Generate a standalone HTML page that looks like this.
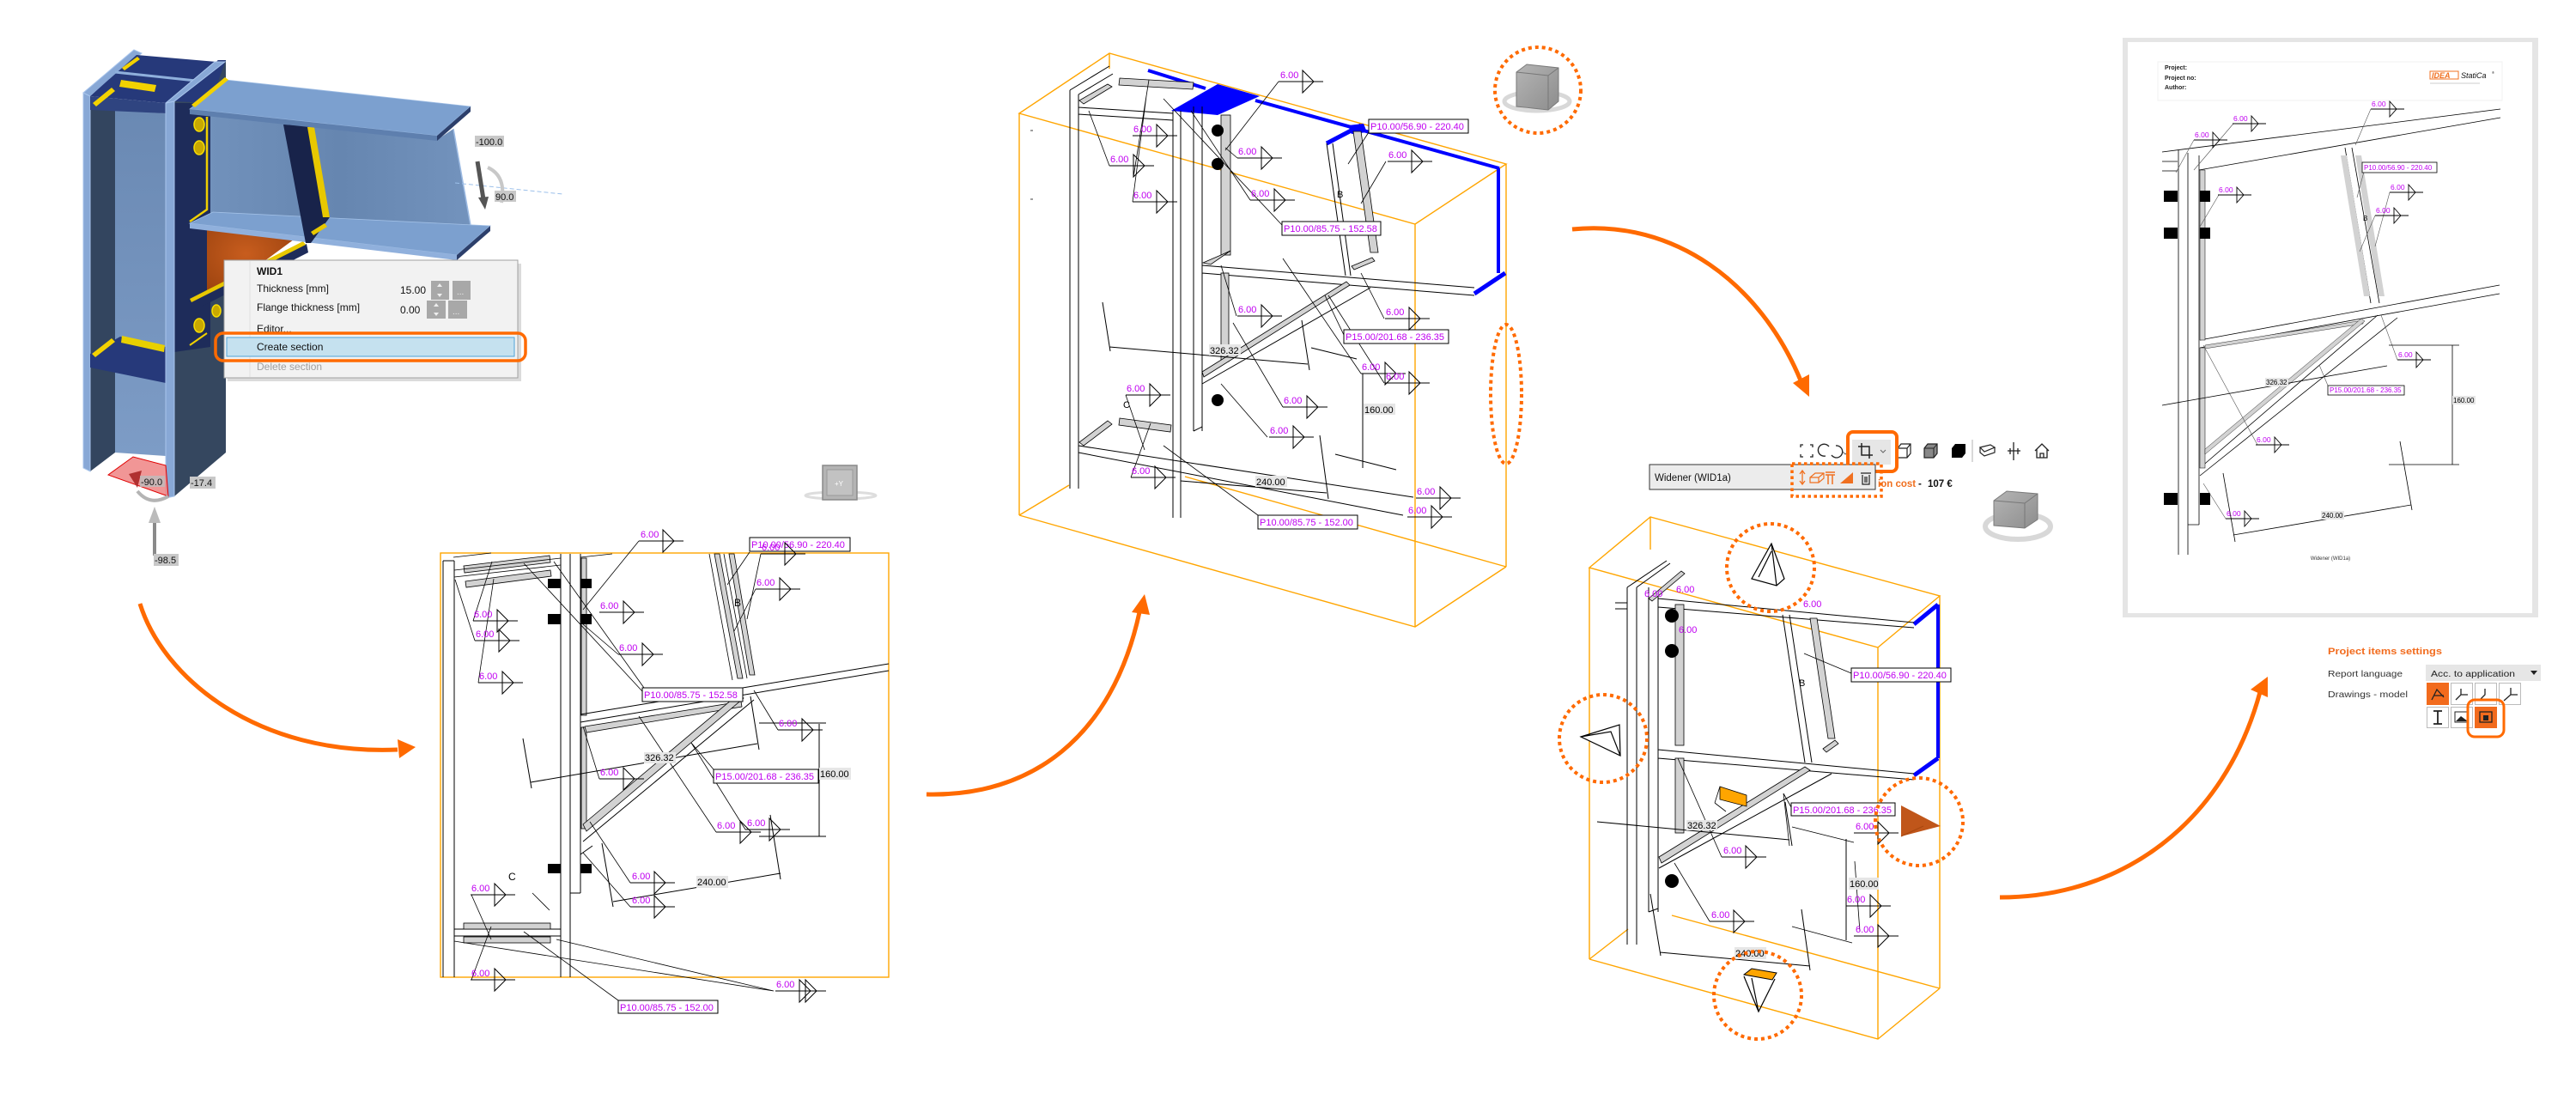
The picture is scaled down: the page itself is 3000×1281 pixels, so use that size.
<!DOCTYPE html>
<html><head><meta charset="utf-8">
<style>
html,body{margin:0;padding:0;background:#fff;overflow:hidden;}
svg{display:block;}
text{font-family:"Liberation Sans",sans-serif;}
.m{fill:#c000f0;font-size:11px;}
.m8{fill:#c000f0;font-size:8.5px;}
.k{fill:#000;font-size:11px;}
.k8{fill:#000;font-size:8px;}
.ln{stroke:#000;stroke-width:1;fill:none;}
.lt{stroke:#000;stroke-width:0.8;fill:none;}
.bx{fill:none;stroke:#ffa500;stroke-width:1.4;}
.gs{fill:#d2d2d2;stroke:#000;stroke-width:0.8;}
.lb{fill:#fff;stroke:#000;stroke-width:1;}
.dm{fill:#e6e6e6;}
.dot{fill:none;stroke:#ff6a00;stroke-width:4;stroke-dasharray:4 4;}
.mi{font-size:12px;fill:#111;}
.gl{font-size:11px;fill:#111;}
</style></head><body>
<svg width="3000" height="1281" viewBox="0 0 3000 1281" xmlns="http://www.w3.org/2000/svg">
<defs>
 <g id="w"><path d="M0,0H52M28,-13V13L41,0Z" fill="none" stroke="#000" stroke-width="1"/></g>
 <g id="ws"><path d="M0,0H39M22,-9V9L30,0Z" fill="none" stroke="#000" stroke-width="0.9"/></g>
 <linearGradient id="web" x1="0" y1="0" x2="0" y2="1"><stop offset="0" stop-color="#6a89b3"/><stop offset="1" stop-color="#7d9cc6"/></linearGradient>
 <linearGradient id="web2" x1="0" y1="0" x2="1" y2="0"><stop offset="0" stop-color="#7191bb"/><stop offset="0.5" stop-color="#6686b0"/><stop offset="1" stop-color="#7393bd"/></linearGradient>
 <radialGradient id="org" cx="0.45" cy="0.35" r="0.7"><stop offset="0" stop-color="#c85d1e"/><stop offset="1" stop-color="#9c430f"/></radialGradient>
 <linearGradient id="cube" x1="0" y1="0" x2="1" y2="1"><stop offset="0" stop-color="#b5b5b5"/><stop offset="1" stop-color="#8d8d8d"/></linearGradient>
</defs>
<rect width="3000" height="1281" fill="#fff"/>

<!-- ================= PANEL 1 ================= -->
<polygon points="203,118 254,70 263,70 263,527 203,578" fill="#35475f"/>
<polygon points="203,118 254,70 263,70 245,120" fill="#26397a"/>
<polygon points="203,120 245,120 245,404 203,410" fill="#1e2c5a"/>
<polygon points="105,128 134,128 134,527 105,549" fill="#33455f"/>
<polygon points="134,128 193,132 193,531 134,527" fill="url(#web)"/>
<polygon points="97,108 105,112 105,549 97,545" fill="#88a8d6" stroke="#a9c5ec" stroke-width="1"/>
<polygon points="97,108 156,58 165,62 105,112" fill="#88a8d6" stroke="#a9c5ec" stroke-width="1"/>
<polygon points="105,112 159,64 252,72 193,120" fill="#26397a"/>
<polygon points="105,112 193,120 193,132 105,128" fill="#2f4480"/>
<line x1="134" y1="84" x2="228" y2="94" stroke="#8fb0dc" stroke-width="3"/>
<polygon points="141,93 182,99 180,107 139,101" fill="#f3d200"/>
<polygon points="108,120 130,102 134,106 112,124" fill="#f3d200"/>
<polygon points="142,79 160,66 163,69 145,82" fill="#f3d200"/>
<polygon points="105,412 140,392 193,404 193,446 105,428" fill="#26397a"/>
<polygon points="107,412 130,394 134,398 111,416" fill="#f3d200"/>
<polygon points="142,391 192,402 191,410 141,399" fill="#e8d000"/>
<polygon points="193,120 203,118 203,578 193,580" fill="#88a8d6" stroke="#a9c5ec" stroke-width="1"/>
<polygon points="193,120 250,72 262,72 203,118" fill="#88a8d6" stroke="#a9c5ec" stroke-width="1"/>
<!-- beam web -->
<polygon points="245,133 509,163 528,150 549,268 532,297 245,262" fill="url(#web2)"/>
<line x1="528" y1="150" x2="549" y2="268" stroke="#9dbbe3" stroke-width="1.5"/>
<!-- widener -->
<polygon points="241,268 342,279 262,338 241,347" fill="url(#org)"/>
<polygon points="221,352 357,284 359,294 223,363" fill="#1e2c5a"/>
<polygon points="221,348 353,281 356,285 223,352" fill="#e8c800"/>
<!-- bottom flange -->
<polygon points="221,260 248,247 571,263 532,297" fill="#7ca0cf" stroke="#a2c0e6" stroke-width="0.8"/>
<polygon points="221,260 532,297 532,303 221,266" fill="#90b0dc"/>
<polygon points="532,297 571,263 571,269 532,303" fill="#2c3f6b"/>
<!-- stiffener -->
<polygon points="330,145 362,147 384,253 362,283 356,283" fill="#18234a"/>
<polygon points="358,148 366,148 384,253 376,253" fill="#e8c800"/>
<polygon points="362,270 378,260 381,264 365,274" fill="#e8c800"/>
<!-- top flange -->
<polygon points="221,127 263,93 548,124 509,158" fill="#7ca0cf" stroke="#9cbbe3" stroke-width="0.8"/>
<polygon points="221,127 509,158 509,164 221,133" fill="#5e7fae"/>
<polygon points="509,158 548,124 548,130 509,164" fill="#2c3f6b"/>
<polygon points="223,122 262,90 266,93 227,125" fill="#f3d200"/>
<polyline points="221,258 241,244 241,136" fill="none" stroke="#f0d000" stroke-width="2.5"/>
<polyline points="221,402 241,388" fill="none" stroke="#f0d000" stroke-width="2"/>
<ellipse cx="232" cy="145" rx="6" ry="8" fill="#c9a900" stroke="#f7dd00" stroke-width="1.5"/>
<ellipse cx="232" cy="172" rx="6" ry="8" fill="#c9a900" stroke="#f7dd00" stroke-width="1.5"/>
<ellipse cx="232" cy="379" rx="6" ry="8" fill="#c9a900" stroke="#f7dd00" stroke-width="1.5"/>
<ellipse cx="252" cy="362" rx="5" ry="7" fill="#c9a900" stroke="#f7dd00" stroke-width="1.5"/>
<!-- gizmo -->
<line x1="530" y1="213" x2="655" y2="226" stroke="#9cc0ea" stroke-width="1" stroke-dasharray="5 3"/>
<path d="M568,195 Q590,205 584,236" fill="none" stroke="#c8c8c8" stroke-width="4"/>
<path d="M556,188 L563,232" stroke="#555" stroke-width="5" fill="none"/>
<polygon points="557,230 569,229 565,244" fill="#555"/>
<rect x="553" y="158" width="34" height="13" fill="#c8c8c8"/>
<text x="554" y="169" class="gl">-100.0</text>
<rect x="576" y="222" width="25" height="13" fill="#c8c8c8"/>
<text x="577" y="233" class="gl">90.0</text>
<!-- red plate -->
<polygon points="126,553 155,532 193,542 196,578" fill="#ef8484" fill-opacity="0.85" stroke="#e00000" stroke-width="1"/>
<polygon points="150,552 165,548 160,568" fill="#b03030"/>
<path d="M160,572 Q175,590 196,578" fill="none" stroke="#b4b4b4" stroke-width="4"/>
<rect x="163" y="554" width="29" height="13" fill="#bdbdbd" fill-opacity="0.8"/>
<text x="164" y="565" class="gl">-90.0</text>
<rect x="221" y="555" width="30" height="14" fill="#c8c8c8"/>
<text x="222" y="566" class="gl">-17.4</text>
<rect x="178" y="605" width="4" height="42" fill="#8a8a8a"/>
<polygon points="173,609 180,590 187,609" fill="#bbb"/>
<rect x="179" y="645" width="29" height="14" fill="#c8c8c8"/>
<text x="180" y="656" class="gl">-98.5</text>
<!-- context menu -->
<rect x="265" y="307" width="342" height="137" fill="#999" fill-opacity="0.35"/>
<rect x="261" y="303" width="342" height="137" fill="#f2f2f2" stroke="#a0a0a0" stroke-width="1"/>
<line x1="291" y1="304" x2="291" y2="439" stroke="#e0e0e0" stroke-width="1"/>
<text x="299" y="320" class="mi" font-weight="bold">WID1</text>
<text x="299" y="340" class="mi">Thickness [mm]</text>
<text x="466" y="342" class="mi">15.00</text>
<rect x="502" y="327" width="21" height="22" fill="#a8a8a8"/>
<polygon points="509,334 512,330 515,334" fill="#eee"/><polygon points="509,342 512,346 515,342" fill="#eee"/>
<rect x="527" y="327" width="21" height="22" fill="#a8a8a8"/>
<text x="532" y="343" font-size="10" fill="#eee">...</text>
<text x="299" y="362" class="mi">Flange thickness [mm]</text>
<text x="466" y="365" class="mi">0.00</text>
<rect x="497" y="350" width="22" height="21" fill="#a8a8a8"/>
<polygon points="505,357 508,353 511,357" fill="#eee"/><polygon points="505,364 508,368 511,364" fill="#eee"/>
<rect x="522" y="350" width="22" height="21" fill="#a8a8a8"/>
<text x="527" y="366" font-size="10" fill="#eee">...</text>
<text x="299" y="387" class="mi">Editor...</text>
<rect x="264" y="393" width="335" height="22" fill="#c5e1ef" stroke="#4ea3d8" stroke-width="1"/>
<text x="299" y="408" class="mi">Create section</text>
<text x="299" y="431" class="mi" fill="#a0a0a0" style="fill:#a0a0a0">Delete section</text>
<rect x="251" y="388" width="361" height="32" rx="9" fill="none" stroke="#ff6a00" stroke-width="3.5"/>

<!-- ================= PANEL 2 ================= -->
<rect x="513" y="644" width="522" height="494" class="bx"/>
<path class="ln" d="M516,653V1138M529,653V1138M516,653H529M653,645V1138M664,645V1138M676,645V1040M664,1040H676"/>
<rect x="677" y="650" width="6" height="183" class="gs"/>
<rect x="677" y="847" width="6" height="118" class="gs"/>
<polygon class="gs" points="540,659 640,647 641,655 541,667"/>
<polygon class="gs" points="542,677 641,664 642,671 543,684"/>
<path class="lt" d="M529,664L653,650M529,672L653,658M528,649L572,644M676,649L713,645"/>
<rect x="638" y="674" width="15" height="11"/><rect x="676" y="674" width="13" height="11"/>
<rect x="638" y="715" width="15" height="12"/><rect x="676" y="715" width="13" height="12"/>
<rect x="638" y="1006" width="15" height="11"/><rect x="676" y="1006" width="13" height="11"/>
<path class="ln" d="M676,832L1035,773M676,841L1035,781"/>
<polygon class="gs" points="681,846 863,817 864,823 683,853"/>
<polygon class="gs" points="679,960 858,810 866,813 683,968"/>
<path class="ln" d="M679,980L878,815M676,995L690,985"/>
<polygon class="gs" points="832,645 838,645 865,790 859,790"/>
<polygon class="gs" points="849,645 855,645 879,786 873,786"/>
<path class="lt" d="M826,645L853,792M843,645L870,790"/>
<path class="ln" d="M529,1082H653M529,1090H653"/>
<rect x="540" y="1075" width="101" height="7" class="gs"/>
<rect x="540" y="1091" width="101" height="7" class="gs"/>
<!-- leaders -->
<path class="lt" d="M645,654L750,801M610,656L748,805M679,710L744,630M679,727L720,762M855,735L880,686M886,645L870,721M878,804L906,850M679,846L698,907M744,834L834,969M805,865L868,966M805,865L831,896M687,957L734,1028M679,993L734,1056M549,1042L572,1094M549,1141L572,1079M551,723L573,654M553,746L530,675M557,795L575,674M610,1085L720,1165M873,643L847,681M529,1096L901,1154M648,1094L901,1154M640,1060L620,1040"/>
<!-- dimensions -->
<path class="ln" d="M618,911L882,866M609,860L619,918M874,811L884,873M954,843V974M884,842H962M884,974H962M714,1050L909,1017M701,982L714,1056M897,949L909,1024"/>
<rect x="750" y="876" width="37" height="13" class="dm"/><text x="751" y="886" class="k">326.32</text>
<rect x="954" y="894" width="37" height="14" class="dm"/><text x="955" y="905" class="k">160.00</text>
<rect x="811" y="1020" width="37" height="14" class="dm"/><text x="812" y="1031" class="k">240.00</text>
<!-- labels -->
<rect x="748" y="801" width="117" height="16" class="lb"/><text x="750" y="813" class="m">P10.00/85.75 - 152.58</text>
<rect x="831" y="896" width="122" height="16" class="lb"/><text x="833" y="908" class="m">P15.00/201.68 - 236.35</text>
<rect x="873" y="626" width="117" height="16" class="lb"/><text x="875" y="638" class="m">P10.00/56.90 - 220.40</text>
<rect x="720" y="1165" width="116" height="15" class="lb"/><text x="722" y="1177" class="m">P10.00/85.75 - 152.00</text>
<text x="855" y="706" font-size="12">B</text>
<text x="592" y="1025" font-size="12">C</text>
<!-- welds -->
<use href="#w" x="744" y="630"/><text x="746" y="626" class="m">6.00</text>
<use href="#w" x="551" y="723"/><text x="552" y="719" class="m">6.00</text>
<use href="#w" x="553" y="746"/><text x="554" y="742" class="m">6.00</text>
<use href="#w" x="557" y="795"/><text x="558" y="791" class="m">6.00</text>
<use href="#w" x="698" y="713"/><text x="699" y="709" class="m">6.00</text>
<use href="#w" x="720" y="762"/><text x="721" y="758" class="m">6.00</text>
<use href="#w" x="880" y="686"/><text x="881" y="682" class="m">6.00</text>
<use href="#w" x="886" y="645"/><text x="887" y="641" class="m">6.00</text>
<use href="#w" x="906" y="850"/><text x="907" y="846" class="m">6.00</text>
<use href="#w" x="698" y="907"/><text x="699" y="903" class="m">6.00</text>
<use href="#w" x="834" y="969"/><text x="835" y="965" class="m">6.00</text>
<use href="#w" x="868" y="966"/><text x="870" y="962" class="m">6.00</text>
<use href="#w" x="734" y="1028"/><text x="736" y="1024" class="m">6.00</text>
<use href="#w" x="734" y="1056"/><text x="736" y="1052" class="m">6.00</text>
<use href="#w" x="548" y="1042"/><text x="549" y="1038" class="m">6.00</text>
<use href="#w" x="548" y="1141"/><text x="549" y="1137" class="m">6.00</text>
<use href="#w" x="903" y="1154"/><use href="#w" x="910" y="1154"/><text x="904" y="1150" class="m">6.00</text>

<!-- small cube icon -->
<ellipse cx="979" cy="577" rx="41" ry="4" fill="none" stroke="#ddd" stroke-width="3"/>
<rect x="958" y="542" width="40" height="40" fill="#b4b4b4" stroke="#8a8a8a" stroke-width="1.5"/>
<rect x="963" y="547" width="30" height="30" fill="#c2c2c2" stroke="#9a9a9a" stroke-width="1"/>
<text x="972" y="566" font-size="8" fill="#fff">+Y</text>

<!-- ================= PANEL 3 ================= -->
<path class="bx" d="M1187,132L1292,62L1754,191L1648,261ZM1187,132V600M1648,261V730M1754,191V660M1187,600L1648,730L1754,660M1187,600L1245,565M1380,555L1754,660M1292,62V80"/>
<path d="M1337,82L1404,103M1462,117L1746,196M1745,196V318" stroke="#0000ff" stroke-width="4" fill="none"/>
<path d="M1717,342L1753,318M1545,167L1585,146" stroke="#0000ff" stroke-width="5" fill="none"/>
<polygon points="1364,129 1418,98 1467,112 1418,134" fill="#0000ff"/>
<polygon points="1570,146 1588,144 1592,154 1574,156" fill="#0000ff"/>
<path class="ln" d="M1246,105V569M1256,110V569M1246,105L1292,77M1256,110L1296,86M1366,129V603M1375,129V603M1390,124V502M1400,124V502M1390,502L1400,497M1256,125L1366,132M1256,133L1366,140M1400,309L1717,335M1400,318L1717,344M1545,167L1567,321M1552,167L1573,321M1400,447L1596,335M1256,519L1646,579M1256,527L1634,600"/>
<rect x="1422" y="134" width="11" height="163" class="gs"/>
<polygon class="gs" points="1422,297 1433,292 1410,308 1401,306"/>
<rect x="1422" y="318" width="9" height="103" class="gs"/>
<polygon class="gs" points="1257,117 1290,98 1295,101 1262,121"/>
<polygon class="gs" points="1304,91 1390,96 1389,104 1303,99"/>
<polygon class="gs" points="1257,515 1290,490 1295,494 1262,519"/>
<polygon class="gs" points="1304,487 1364,495 1363,503 1303,495"/>
<polygon class="gs" points="1576,153 1585,153 1605,294 1596,294"/>
<polygon class="gs" points="1574,310 1598,300 1601,304 1577,314"/>
<polygon class="gs" points="1400,433 1568,328 1572,332 1402,439"/>
<ellipse cx="1418" cy="152" rx="7" ry="7"/><ellipse cx="1418" cy="191" rx="7" ry="7"/><ellipse cx="1418" cy="466" rx="7" ry="7"/>
<path class="lt" d="M1489,95L1427,175M1355,115L1493,262M1387,129L1456,233M1338,93L1320,206M1268,129L1292,193M1335,112L1319,235M1427,172L1441,184M1570,191L1594,154M1585,237L1614,188M1543,344L1565,390M1422,309L1440,368M1585,318L1612,371M1494,301L1585,435M1547,344L1612,446M1311,460L1333,524M1436,376L1494,474M1422,447L1476,509M1340,493L1317,556M1355,519L1465,600M1200,152H1203M1200,232H1203"/>
<path class="ln" d="M1292,404L1523,424M1284,352L1293,409M1516,373L1525,431M1587,435V545M1527,405L1580,418M1555,529L1626,547M1375,560L1545,574M1537,507L1547,581"/>
<rect x="1408" y="401" width="37" height="13" class="dm"/><text x="1409" y="412" class="k">326.32</text>
<rect x="1588" y="470" width="37" height="13" class="dm"/><text x="1589" y="481" class="k">160.00</text>
<rect x="1462" y="554" width="37" height="13" class="dm"/><text x="1463" y="565" class="k">240.00</text>
<rect x="1594" y="139" width="116" height="16" class="lb"/><text x="1596" y="151" class="m">P10.00/56.90 - 220.40</text>
<rect x="1493" y="258" width="115" height="16" class="lb"/><text x="1495" y="270" class="m">P10.00/85.75 - 152.58</text>
<rect x="1565" y="384" width="122" height="16" class="lb"/><text x="1567" y="396" class="m">P15.00/201.68 - 236.35</text>
<rect x="1465" y="600" width="116" height="16" class="lb"/><text x="1467" y="612" class="m">P10.00/85.75 - 152.00</text>
<text x="1557" y="230" font-size="11">B</text>
<text x="1308" y="475" font-size="11">C</text>
<use href="#w" x="1489" y="95"/><text x="1491" y="91" class="m">6.00</text>
<use href="#w" x="1319" y="158"/><text x="1320" y="154" class="m">6.00</text>
<use href="#w" x="1292" y="193"/><text x="1293" y="189" class="m">6.00</text>
<use href="#w" x="1319" y="235"/><text x="1320" y="231" class="m">6.00</text>
<use href="#w" x="1441" y="184"/><text x="1442" y="180" class="m">6.00</text>
<use href="#w" x="1456" y="233"/><text x="1457" y="229" class="m">6.00</text>
<use href="#w" x="1616" y="188"/><text x="1617" y="184" class="m">6.00</text>
<use href="#w" x="1441" y="368"/><text x="1442" y="364" class="m">6.00</text>
<use href="#w" x="1613" y="371"/><text x="1614" y="367" class="m">6.00</text>
<use href="#w" x="1585" y="435"/><text x="1586" y="431" class="m">6.00</text>
<use href="#w" x="1613" y="446"/><text x="1614" y="442" class="m">6.00</text>
<use href="#w" x="1311" y="460"/><text x="1312" y="456" class="m">6.00</text>
<use href="#w" x="1494" y="474"/><text x="1495" y="470" class="m">6.00</text>
<use href="#w" x="1478" y="509"/><text x="1479" y="505" class="m">6.00</text>
<use href="#w" x="1317" y="556"/><text x="1318" y="552" class="m">6.00</text>
<use href="#w" x="1649" y="580"/><text x="1650" y="576" class="m">6.00</text>
<use href="#w" x="1639" y="602"/><text x="1640" y="598" class="m">6.00</text>
<!-- nav cube 3 -->
<ellipse cx="1790" cy="118" rx="38" ry="11" fill="none" stroke="#d8d8d8" stroke-width="5"/>
<polygon points="1766,84 1778,75 1815,79 1815,118 1803,128 1766,124" fill="url(#cube)" stroke="#7a7a7a" stroke-width="1"/>
<path d="M1766,84L1803,88L1815,79M1803,88V128" stroke="#777" fill="none"/>
<circle cx="1791" cy="105" r="50" class="dot"/>
<ellipse cx="1754" cy="459" rx="18" ry="81" class="dot"/>

<!-- ================= PANEL 4 ================= -->
<!-- toolbar -->
<rect x="2157" y="512" width="45" height="29" fill="#e6e6e6"/>
<path d="M2097,521V518H2100M2108,518H2111V521M2097,529V532H2100M2108,532H2111V529" stroke="#222" fill="none" stroke-width="1.3"/>
<path d="M2130,520A7,7 0 1 0 2126,531M2133,530A7,7 0 1 0 2138,519" stroke="#222" fill="none" stroke-width="1.3"/>
<path d="M2146,526L2149,529L2152,526" stroke="#666" fill="none"/>
<path d="M2168,516V530H2181M2164,520H2177V534" stroke="#222" fill="none" stroke-width="1.5"/>
<path d="M2190,524L2193,527L2196,524" stroke="#666" fill="none"/>
<path d="M2210,522L2214,517H2225V528L2221,533H2210ZM2210,522H2221V533M2221,522L2225,517" stroke="#222" fill="none" stroke-width="1.2"/>
<path d="M2241,522L2245,517H2256V528L2252,533H2241Z" fill="#888" stroke="#222" stroke-width="1.2"/>
<path d="M2241,522H2252V533M2252,522L2256,517" stroke="#222" fill="none"/>
<path d="M2273,522L2277,517H2289V528L2285,533H2273Z" fill="#000"/>
<line x1="2297" y1="512" x2="2297" y2="538" stroke="#ccc" stroke-width="1.5"/>
<path d="M2306,521L2318,518L2323,521L2311,526ZM2306,521V527L2311,531L2323,527V521" stroke="#222" fill="none" stroke-width="1.2"/>
<path d="M2345,515V536M2338,525H2353M2341,522V529M2350,522V529" stroke="#222" fill="none" stroke-width="1.3"/>
<path d="M2370,525L2378,517L2386,525M2372,523V533H2384V523M2376,533V528H2380V533" stroke="#222" fill="none" stroke-width="1.3"/>
<rect x="2152" y="503" width="57" height="46" rx="6" fill="none" stroke="#ff6a00" stroke-width="4"/>
<rect x="1921" y="541" width="263" height="29" fill="#ececec" stroke="#333" stroke-width="1"/>
<text x="1927" y="560" font-size="11.5" fill="#111">Widener (WID1a)</text>
<path d="M2099,549V563M2096,552L2099,548L2102,552M2096,560L2099,564L2102,560" stroke="#f07020" fill="none" stroke-width="1.3"/>
<path d="M2108,556L2114,551H2124V557L2118,562H2108ZM2108,556H2118V562M2118,556L2124,551" stroke="#f07020" fill="none" stroke-width="1.2"/>
<path d="M2126,550H2137M2126,553H2137M2129,553V564M2134,553V564" stroke="#f07020" fill="none" stroke-width="1.5"/>
<polygon points="2143,563 2158,563 2158,550" fill="#f07020"/>
<path d="M2167,551H2179M2169,553V564H2177V553M2172,555V562M2174,555V562" stroke="#222" fill="none" stroke-width="1.2"/>
<rect x="2087" y="540" width="104" height="38" class="dot" style="stroke-width:3.5;stroke-dasharray:3.5 3.5"/>
<text x="2187" y="567" font-size="11.5" font-weight="bold" fill="#f07020">ion cost</text>
<text x="2234" y="567" font-size="11.5" font-weight="bold" fill="#111">-</text>
<text x="2245" y="567" font-size="11.5" font-weight="bold" fill="#111">107 €</text>
<ellipse cx="2350" cy="613" rx="38" ry="15" fill="none" stroke="#d8d8d8" stroke-width="6"/>
<polygon points="2322,583 2337,572 2373,575 2373,605 2358,615 2322,612" fill="url(#cube)" stroke="#7a7a7a" stroke-width="1"/>
<path d="M2322,583L2358,586L2373,575M2358,586V615" stroke="#777" fill="none"/>
<!-- box -->
<path class="bx" d="M1851,661L1922,602L2259,694L2187,754ZM1851,661V1117M2187,754V1210M2259,694V1151M1851,1117L2187,1210L2259,1151M1851,1117L1896,1082M1947,1066L2259,1151M1922,602V640"/>
<path d="M2257,704V883" stroke="#0000ff" stroke-width="4"/>
<path d="M2229,727L2257,704M2229,903L2257,883" stroke="#0000ff" stroke-width="5"/>
<path class="ln" d="M1895,684V1100M1906,684V1100M1920,684V1062M1931,690V1062M1920,1062L1931,1058M1895,684L1941,653M1906,684L1945,656M1881,702H1895M1881,709H1895M1931,697L2229,725M1931,707L2229,731M1931,873L2229,901M1931,883L2229,908M2076,716L2102,888M2084,716L2110,888M1932,1011L2133,901"/>
<polygon class="gs" points="1920,697 1958,665 1962,668 1924,700"/>
<rect x="1951" y="704" width="10" height="164" class="gs"/>
<rect x="1951" y="883" width="10" height="87" class="gs"/>
<polygon class="gs" points="2108,720 2116,720 2137,860 2129,860"/>
<polygon class="gs" points="2123,872 2137,862 2141,866 2127,876"/>
<polygon class="gs" points="1932,998 2102,893 2108,897 1935,1005"/>
<polygon points="2003,916 2034,926 2034,939 2003,931" fill="#ffa500" stroke="#000" stroke-width="0.8"/>
<path class="lt" d="M1997,935L2003,916M1997,935L2010,945"/>
<ellipse cx="1947" cy="717" rx="8" ry="8"/><ellipse cx="1947" cy="758" rx="8" ry="8"/><ellipse cx="1947" cy="1026" rx="8" ry="8"/>
<path class="lt" d="M2101,761L2156,784M2077,924L2086,940M1950,1005L1991,1073M1954,883L2005,998M2077,924L2084,985M2087,963L2159,981M2087,1079L2157,1098M2160,1003L2166,1085"/>
<path class="ln" d="M1860,957L2084,978M2079,934L2087,985M1933,1109L2108,1125M1922,1041L1934,1113M2098,1059L2108,1130M2150,977V1095"/>
<rect x="1964" y="955" width="36" height="12" class="dm"/><text x="1965" y="965" class="k">326.32</text>
<rect x="2153" y="1022" width="35" height="14" class="dm"/><text x="2154" y="1033" class="k">160.00</text>
<rect x="2020" y="1103" width="37" height="14" class="dm"/><text x="2021" y="1114" class="k">240.00</text>
<rect x="2156" y="778" width="116" height="16" class="lb"/><text x="2158" y="790" class="m">P10.00/56.90 - 220.40</text>
<rect x="2086" y="935" width="121" height="15" class="lb"/><text x="2088" y="947" class="m">P15.00/201.68 - 236.35</text>
<text x="2095" y="799" font-size="11">B</text>
<text x="1915" y="695" class="m">6.00</text>
<text x="1952" y="690" class="m">6.00</text>
<text x="2100" y="707" class="m">6.00</text>
<text x="1955" y="737" class="m">6.00</text>
<use href="#w" x="2005" y="998"/><text x="2007" y="994" class="m">6.00</text>
<use href="#w" x="2159" y="970"/><text x="2161" y="966" class="m">6.00</text>
<use href="#w" x="2150" y="1055"/><text x="2151" y="1051" class="m">6.00</text>
<use href="#w" x="1991" y="1073"/><text x="1993" y="1069" class="m">6.00</text>
<use href="#w" x="2159" y="1090"/><text x="2161" y="1086" class="m">6.00</text>
<!-- highlighted shapes -->
<path d="M2063,633L2040,674L2069,682L2078,674ZM2063,633L2069,682M2063,642L2048,672" fill="#fff" stroke="#000" stroke-width="1.2"/>
<path d="M1841,858L1886,844L1887,880ZM1841,858L1876,852L1887,880" fill="#fff" stroke="#000" stroke-width="1.2"/>
<polygon points="2214,938 2260,962 2214,974" fill="#c0561a"/>
<path d="M2214,974L2240,962" stroke="#a8470f" stroke-width="1"/>
<polygon points="2031,1135 2040,1128 2069,1133 2064,1141" fill="#ffa500" stroke="#000" stroke-width="1"/>
<path d="M2031,1137L2048,1178L2067,1140M2040,1139L2048,1178" fill="none" stroke="#000" stroke-width="1.2"/>
<circle cx="2062" cy="661" r="51" class="dot"/>
<circle cx="1867" cy="860" r="51" class="dot"/>
<circle cx="2235" cy="957" r="51" class="dot"/>
<circle cx="2047" cy="1159" r="51" class="dot"/>

<!-- ================= PANEL 5 ================= -->
<rect x="2472" y="44" width="484" height="675" fill="#e5e5e5"/>
<rect x="2478" y="49" width="471" height="665" fill="#fff"/>
<rect x="2513" y="72" width="401" height="45" fill="none" stroke="#f2f2f2" stroke-width="1"/>
<text x="2521" y="81" font-size="7" font-weight="bold" fill="#222">Project:</text>
<text x="2521" y="93" font-size="7" font-weight="bold" fill="#222">Project no:</text>
<text x="2521" y="104" font-size="7" font-weight="bold" fill="#222">Author:</text>
<rect x="2830" y="83" width="33" height="9" fill="none" stroke="#f07020" stroke-width="1"/>
<text x="2832" y="91" font-size="9" font-style="italic" font-weight="bold" fill="#f07020">IDEA</text>
<text x="2866" y="91" font-size="9" font-style="italic" fill="#111">StatiCa</text>
<text x="2902" y="86" font-size="4" fill="#111">®</text>
<line x1="2830" y1="97" x2="2888" y2="97" stroke="#bbb" stroke-width="0.8"/>
<path class="lt" d="M2537,175V646M2548,178V646M2561,181V611M2548,611H2561M2518,177L2912,127M2561,198L2912,137M2562,396L2911,332M2562,405L2911,342M2562,545L2769,367M2562,554L2792,370M2731,172L2761,353M2739,172L2771,353"/>
<rect x="2562" y="198" width="6" height="198" class="gs" style="stroke-width:0.5"/>
<rect x="2562" y="405" width="6" height="140" class="gs" style="stroke-width:0.5"/>
<polygon class="gs" points="2726,181 2733,181 2760,345 2753,345" style="stroke:none"/>
<polygon class="gs" points="2743,181 2750,181 2777,345 2770,345" style="stroke:none"/>
<polygon class="gs" points="2568,402 2752,373 2752,377 2568,406" style="stroke-width:0.4"/>
<polygon class="gs" points="2568,523 2750,371 2754,374 2568,529" style="stroke-width:0.4"/>
<rect x="2520" y="222" width="16" height="13"/><rect x="2562" y="222" width="12" height="13"/>
<rect x="2520" y="265" width="16" height="13"/><rect x="2562" y="265" width="12" height="13"/>
<rect x="2520" y="574" width="16" height="14"/><rect x="2562" y="574" width="12" height="14"/>
<path class="lt" d="M2518,188H2536M2518,199H2536" stroke="#666"/>
<path d="M2555,198L2601,144M2534,201L2555,163M2562,264L2584,227M2743,169L2761,127M2766,287L2783,224M2748,293L2766,251M2773,367L2792,419M2566,402L2629,518M2566,563L2592,604M2745,230L2753,200M2701,425L2711,449" stroke="#555" stroke-width="0.6" fill="none"/>
<path class="lt" d="M2518,472L2780,426M2856,402V541M2782,402H2864M2782,541H2864M2601,623L2808,588M2589,551L2603,631M2795,514L2809,594"/>
<rect x="2638" y="440" width="27" height="10" class="dm"/><text x="2639" y="448" class="k8">326.32</text>
<rect x="2856" y="461" width="27" height="10" class="dm"/><text x="2857" y="469" class="k8">160.00</text>
<rect x="2703" y="595" width="27" height="10" class="dm"/><text x="2704" y="603" class="k8">240.00</text>
<rect x="2751" y="189" width="87" height="12" class="lb" style="stroke-width:0.8"/><text x="2753" y="198" class="m8" style="font-size:8px">P10.00/56.90 - 220.40</text>
<rect x="2711" y="449" width="89" height="11" class="lb" style="stroke-width:0.8"/><text x="2713" y="457" class="m8" style="font-size:8px">P15.00/201.68 - 236.35</text>
<text x="2752" y="257" font-size="8">B</text>
<use href="#ws" x="2600" y="144"/><text x="2601" y="141" class="m8">6.00</text>
<use href="#ws" x="2555" y="163"/><text x="2556" y="160" class="m8">6.00</text>
<use href="#ws" x="2583" y="227"/><text x="2584" y="224" class="m8">6.00</text>
<use href="#ws" x="2761" y="127"/><text x="2762" y="124" class="m8">6.00</text>
<use href="#ws" x="2783" y="224"/><text x="2784" y="221" class="m8">6.00</text>
<use href="#ws" x="2766" y="251"/><text x="2767" y="248" class="m8">6.00</text>
<use href="#ws" x="2792" y="419"/><text x="2793" y="416" class="m8">6.00</text>
<use href="#ws" x="2627" y="518"/><text x="2628" y="515" class="m8">6.00</text>
<use href="#ws" x="2592" y="604"/><text x="2593" y="601" class="m8">6.00</text>
<text x="2714" y="652" font-size="6" text-anchor="middle" fill="#333">Widener (WID1a)</text>
<!-- settings -->
<text x="2711" y="762" font-size="11" font-weight="bold" fill="#f26b1d" textLength="133" lengthAdjust="spacingAndGlyphs">Project items settings</text>
<text x="2711" y="788" font-size="10.5" fill="#333" textLength="87" lengthAdjust="spacingAndGlyphs">Report language</text>
<text x="2711" y="812" font-size="10.5" fill="#333" textLength="93" lengthAdjust="spacingAndGlyphs">Drawings - model</text>
<rect x="2825" y="774" width="134" height="19" fill="#e6e6e6"/>
<text x="2831" y="788" font-size="10.5" fill="#222" textLength="98" lengthAdjust="spacingAndGlyphs">Acc. to application</text>
<polygon points="2947,781 2955,781 2951,786" fill="#222"/>
<rect x="2826" y="795" width="26" height="26" fill="#f26b1d"/>
<path d="M2832,815L2838,803L2846,812M2834,810H2846" stroke="#222" fill="none" stroke-width="1.3"/>
<rect x="2854.5" y="795.5" width="25" height="25" fill="#fff" stroke="#bbb"/>
<path d="M2860,815L2866,809V802M2866,809H2874" stroke="#222" fill="none" stroke-width="1.3"/>
<rect x="2882.5" y="795.5" width="25" height="25" fill="#fff" stroke="#bbb"/>
<path d="M2888,815L2894,809V802M2888,815H2900" stroke="#222" fill="none" stroke-width="1.3"/>
<rect x="2910.5" y="795.5" width="25" height="25" fill="#fff" stroke="#bbb"/>
<path d="M2916,816L2924,809V801M2924,809H2932" stroke="#222" fill="none" stroke-width="1.3"/>
<rect x="2826.5" y="823.5" width="25" height="24" fill="#fff" stroke="#bbb"/>
<path d="M2834,828H2844M2839,828V843M2834,843H2844" stroke="#222" stroke-width="1.8" fill="none"/>
<rect x="2854.5" y="823.5" width="25" height="24" fill="#fff" stroke="#bbb"/>
<rect x="2859" y="829" width="16" height="12" fill="none" stroke="#222"/>
<polygon points="2860,840 2866,834 2874,840" fill="#222"/>
<rect x="2882" y="823" width="26" height="25" fill="#f26b1d"/>
<rect x="2888" y="829" width="14" height="12" fill="none" stroke="#222" stroke-width="1.3"/>
<rect x="2892" y="833" width="6" height="6" fill="#222"/>
<rect x="2874" y="815" width="42" height="43" rx="8" fill="none" stroke="#ff6a00" stroke-width="3"/>

<!-- ================= ARROWS ================= -->
<g fill="none" stroke="#ff6a00" stroke-width="5">
 <path d="M163,703 C190,790 300,880 463,873"/>
 <path d="M1079,925 C1200,928 1295,860 1327,713"/>
 <path d="M1831,267 C1950,255 2050,330 2097,443"/>
 <path d="M2329,1045 C2470,1045 2590,960 2632,806"/>
</g>
<g fill="#ff6a00">
 <polygon points="484,870 463,861 465,883"/>
 <polygon points="1333,692 1318,713 1339,716"/>
 <polygon points="2107,462 2088,446 2107,436"/>
 <polygon points="2641,788 2641,812 2621,803"/>
</g>
</svg>
</body></html>
